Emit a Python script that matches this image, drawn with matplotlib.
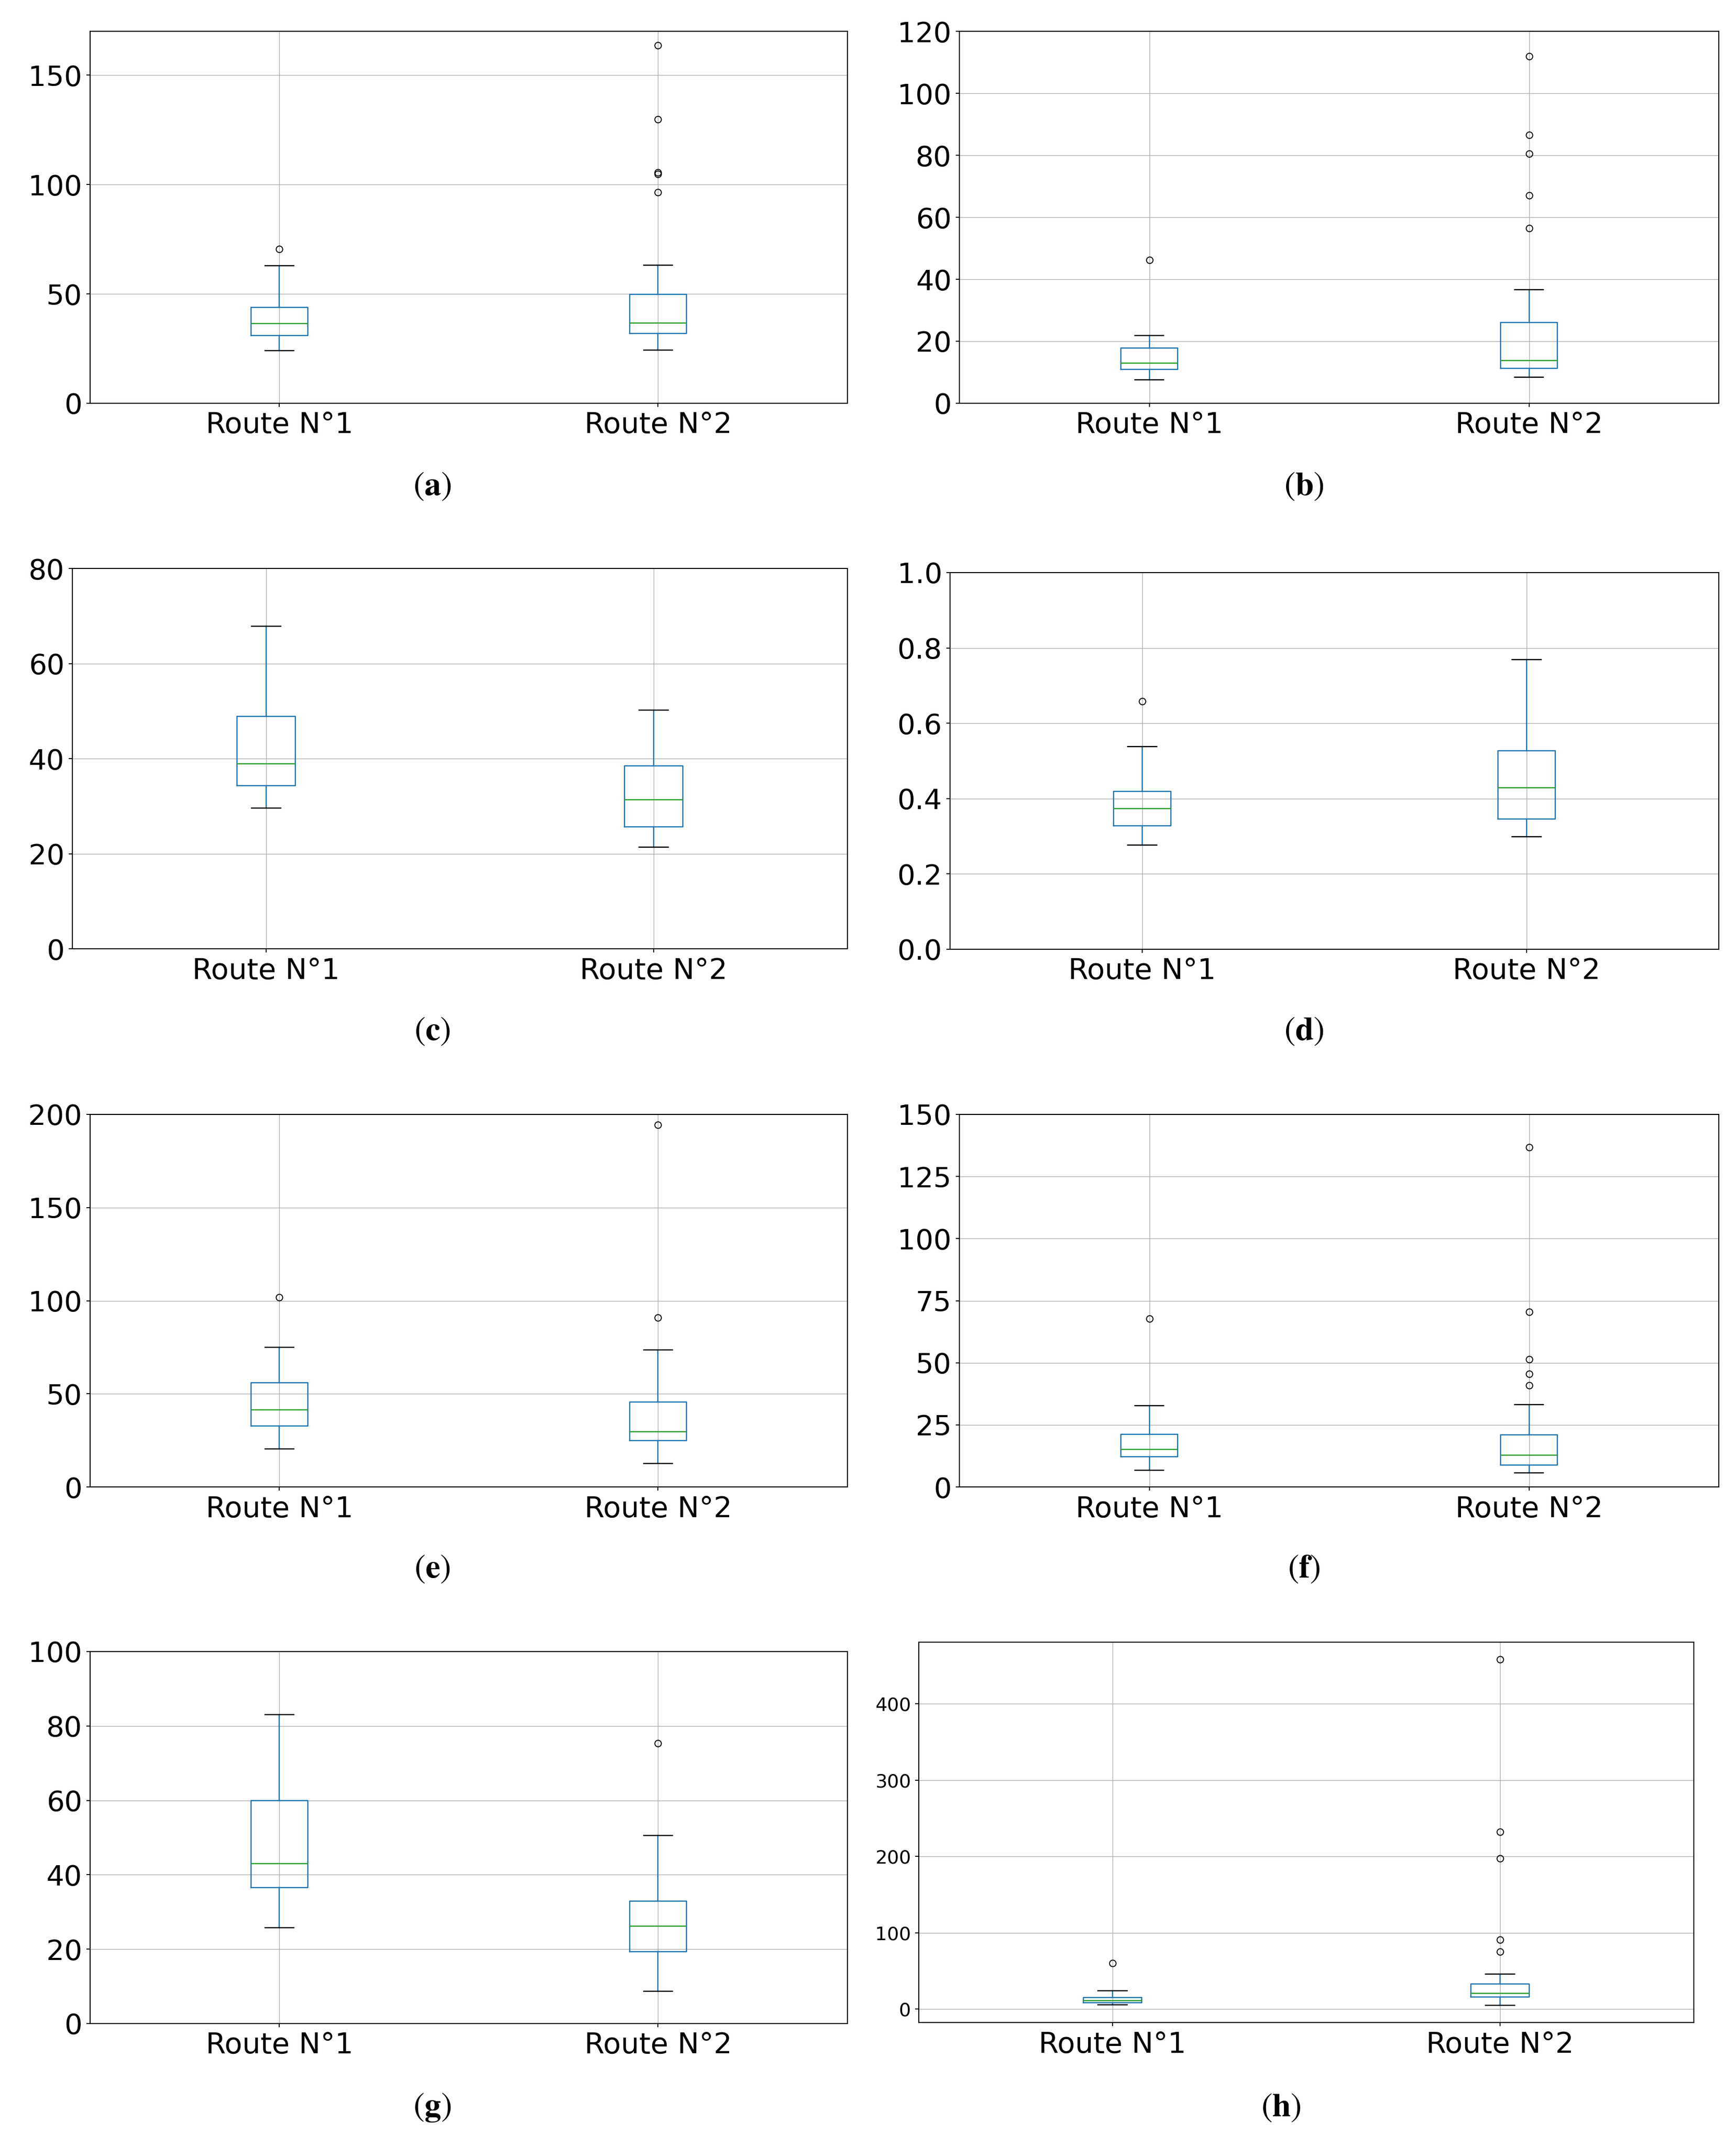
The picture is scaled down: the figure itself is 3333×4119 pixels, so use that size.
import matplotlib.pyplot as plt

plt.rcParams['font.family'] = 'DejaVu Sans'
plt.rcParams['mathtext.fontset'] = 'stix'

routes = ['Route N°1', 'Route N°2']

# boxplot summaries per route: whisker low, Q1, median, Q3, whisker high
a_r1 = [24.0, 30.9, 36.5, 43.8, 62.8]
a_r2 = [24.4, 31.9, 36.7, 49.8, 63.1]
a_r1_out = [70.4]
a_r2_out = [163.7, 129.8, 105.5, 104.8, 96.4]

b_r1 = [7.6, 11.0, 12.9, 17.8, 21.8]
b_r2 = [8.4, 11.2, 13.7, 26.1, 36.6]
b_r1_out = [46.3]
b_r2_out = [112.0, 86.5, 80.5, 67.1, 56.4]

c_r1 = [29.6, 34.3, 38.9, 48.9, 67.9]
c_r2 = [21.4, 25.6, 31.3, 38.5, 50.2]
c_r1_out = []
c_r2_out = []

d_r1 = [0.276, 0.327, 0.373, 0.419, 0.538]
d_r2 = [0.299, 0.345, 0.429, 0.527, 0.769]
d_r1_out = [0.658]
d_r2_out = []

e_r1 = [20.4, 32.8, 41.4, 56.0, 75.0]
e_r2 = [12.6, 24.8, 29.8, 45.6, 73.7]
e_r1_out = [101.9]
e_r2_out = [194.3, 90.9]

f_r1 = [6.7, 12.2, 15.2, 21.1, 32.7]
f_r2 = [5.7, 8.9, 12.8, 20.9, 33.2]
f_r1_out = [67.7]
f_r2_out = [136.7, 70.6, 51.5, 45.6, 41.0]

g_r1 = [25.8, 36.6, 43.0, 60.0, 83.0]
g_r2 = [8.6, 19.3, 26.2, 32.9, 50.6]
g_r1_out = []
g_r2_out = [75.4]

h_r1 = [5.4, 8.5, 10.7, 15.2, 23.7]
h_r2 = [4.9, 16.1, 20.5, 33.0, 46.0]
h_r1_out = [60.3]
h_r2_out = [458.0, 232.6, 197.3, 91.1, 75.0]

panels = [
    ('a', a_r1, a_r2, a_r1_out, a_r2_out),
    ('b', b_r1, b_r2, b_r1_out, b_r2_out),
    ('c', c_r1, c_r2, c_r1_out, c_r2_out),
    ('d', d_r1, d_r2, d_r1_out, d_r2_out),
    ('e', e_r1, e_r2, e_r1_out, e_r2_out),
    ('f', f_r1, f_r2, f_r1_out, f_r2_out),
    ('g', g_r1, g_r2, g_r1_out, g_r2_out),
    ('h', h_r1, h_r2, h_r1_out, h_r2_out),
]

# axis limits / ticks (None -> autoscale)
ylims = [(0, 170), (0, 120), (0, 80), (0, 1.0), (0, 200), (0, 150), (0, 100), None]
yticks = [[0, 50, 100, 150], [0, 20, 40, 60, 80, 100, 120], [0, 20, 40, 60, 80],
          [0.0, 0.2, 0.4, 0.6, 0.8, 1.0], [0, 50, 100, 150, 200],
          [0, 25, 50, 75, 100, 125, 150], [0, 20, 40, 60, 80, 100],
          [0, 100, 200, 300, 400]]

# layout of the axes in figure fractions
positions = [
    [0.0519, 0.8121, 0.4362, 0.1733],
    [0.5527, 0.8121, 0.4374, 0.1733],
    [0.0417, 0.5579, 0.4465, 0.1772],
    [0.5473, 0.5577, 0.4428, 0.1755],
    [0.0519, 0.3071, 0.4362, 0.1736],
    [0.5527, 0.3071, 0.4374, 0.1736],
    [0.0519, 0.0571, 0.4362, 0.1733],
    [0.5293, 0.0575, 0.4464, 0.1772],
]
captions_xy = [(0.249, 0.7735), (0.751, 0.7735), (0.249, 0.5195), (0.751, 0.5195),
               (0.249, 0.2690), (0.751, 0.2690), (0.249, 0.0180), (0.738, 0.0180)]


def make_stats(summary, outliers, label):
    return {'whislo': summary[0], 'q1': summary[1], 'med': summary[2],
            'q3': summary[3], 'whishi': summary[4], 'fliers': outliers,
            'label': label}


fig = plt.figure(figsize=(33.33, 41.19), dpi=100)

for i, (name, r1, r2, r1_out, r2_out) in enumerate(panels):
    ax = fig.add_axes(positions[i])
    stats = [make_stats(r1, r1_out, routes[0]), make_stats(r2, r2_out, routes[1])]
    ax.bxp(stats, positions=[1, 2], widths=0.15,
           boxprops=dict(color='#1f77b4', linewidth=1.7),
           whiskerprops=dict(color='#1f77b4', linewidth=1.7),
           capprops=dict(color='k', linewidth=1.7),
           medianprops=dict(color='#2ca02c', linewidth=1.7),
           flierprops=dict(marker='o', markerfacecolor='none', markeredgecolor='k',
                           markersize=9, markeredgewidth=1.3))
    ax.set_xlim(0.5, 2.5)
    if ylims[i] is not None:
        ax.set_ylim(ylims[i])
    ax.set_yticks(yticks[i])
    if name == 'd':
        ax.set_yticklabels(['%.1f' % t for t in yticks[i]])
    ax.grid(True, color='#b0b0b0', linewidth=1.0)
    ax.set_axisbelow(True)
    for sp in ax.spines.values():
        sp.set_linewidth(1.4)
    ax.tick_params(axis='x', labelsize=40, length=5, width=1.3, pad=6)
    ax.tick_params(axis='y', labelsize=26 if name == 'h' else 39, length=5, width=1.3, pad=6)
    fig.text(captions_xy[i][0], captions_xy[i][1], r'$(\mathbf{%s})$' % name,
             fontsize=46, ha='center', va='center')

fig.savefig('out.png', dpi=100, facecolor='white')
